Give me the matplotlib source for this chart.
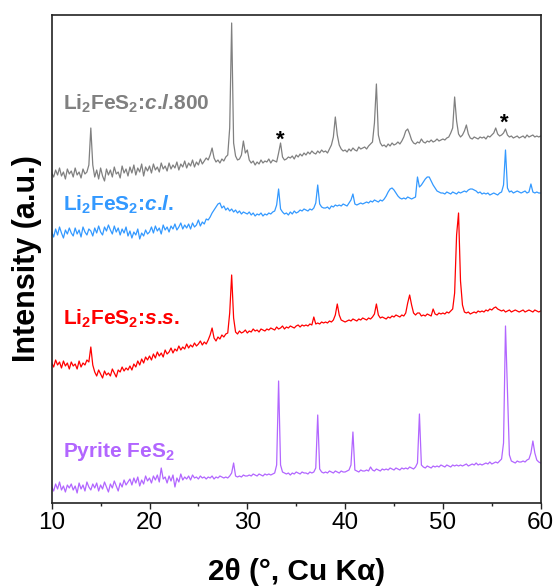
import numpy as np
import matplotlib
matplotlib.use("Agg")
import matplotlib.pyplot as plt

plt.rcParams['font.family'] = ['Liberation Sans', 'DejaVu Sans']
plt.rcParams['mathtext.fontset'] = 'custom'
plt.rcParams['mathtext.rm'] = 'Liberation Sans:bold'
plt.rcParams['mathtext.it'] = 'Liberation Sans:bold:italic'
plt.rcParams['mathtext.bf'] = 'Liberation Sans:bold'

# 2theta sampling grid (degrees), 10.0 ... 60.0 in 0.2 steps
two_theta = np.round(np.linspace(10.0, 60.0, 251), 1)

# Intensities (arbitrary units, offset stacked as in the figure)
cl800 = [
    330, 326, 333, 328, 335, 327, 331, 324, 334, 329,
    332, 326, 335, 328, 331, 325, 334, 329, 331, 338,
    375, 338, 326, 333, 324, 335, 327, 322, 334, 328,
    333, 326, 336, 329, 331, 325, 337, 330, 334, 327,
    336, 330, 338, 328, 335, 331, 339, 327, 336, 332,
    337, 330, 339, 333, 336, 331, 340, 334, 337, 332,
    340, 334, 338, 335, 341, 333, 339, 336, 342, 335,
    340, 337, 343, 336, 341, 338, 344, 339, 342, 345,
    343, 348, 355, 345, 341, 343, 340, 344, 342, 346,
    348, 375, 480, 360, 347, 343, 344, 348, 362, 350,
    353, 343, 340, 342, 338, 341, 339, 343, 340, 342,
    341, 344, 340, 343, 342, 341, 350, 360, 346, 343,
    344, 346, 345, 347, 344, 348, 346, 349, 347, 350,
    348, 351, 349, 352, 350, 349, 352, 350, 353, 351,
    352, 350, 354, 358, 366, 386, 368, 358, 354, 352,
    353, 351, 354, 352, 355, 353, 352, 356, 354, 355,
    356, 354, 357, 359, 361, 380, 419, 368, 360, 357,
    358, 356, 359, 357, 360, 358, 359, 361, 359, 362,
    366, 372, 374, 369, 363, 360, 359, 361, 360, 364,
    361, 360, 362, 361, 363, 361, 362, 364, 362, 363,
    364, 363, 365, 366, 370, 375, 406, 382, 369, 366,
    368, 372, 378, 369, 365, 364, 366, 365, 364, 366,
    365, 366, 364, 367, 366, 368, 370, 375, 369, 367,
    368, 370, 374, 368, 366, 367, 365, 366, 367, 365,
    366, 367, 365, 368, 366, 367, 368, 366, 367, 366,
    367,
]

cl = [
    271, 266, 274, 268, 276, 270, 265, 273, 269, 275,
    270, 267, 275, 269, 273, 266, 276, 271, 268, 274,
    272, 267, 275, 270, 277, 271, 268, 276, 272, 278,
    273, 269, 277, 271, 275, 268, 274, 270, 276, 267,
    272, 265, 271, 268, 274, 264, 270, 267, 273, 269,
    271, 276, 270, 277, 272, 275, 269, 278, 273, 276,
    271, 277, 274, 279, 273, 276, 280, 274, 278, 275,
    279, 274, 280, 276, 278, 283, 277, 281, 279, 284,
    283, 286, 290, 293, 296, 299, 300, 295, 297, 293,
    295, 292, 294, 291, 293, 290, 292, 289, 291, 290,
    289, 291, 288, 290, 287, 289, 288, 290, 287, 289,
    288, 290, 289, 291, 292, 298, 314, 294, 291, 289,
    290, 288, 291, 289, 292, 290, 291, 293, 292, 294,
    293, 292, 294, 293, 295, 300, 318, 299, 296, 295,
    295, 296, 294, 297, 296, 298, 297, 298, 297, 299,
    298, 297, 300, 303, 309, 299, 298, 299, 300, 299,
    300, 301, 300, 302, 301, 303, 302, 301, 303, 302,
    304, 307, 311, 314, 315, 313, 310, 307, 305, 304,
    305, 304, 306, 305, 304, 305, 306, 326, 316, 318,
    321, 324, 326, 326, 322, 318, 315, 312, 311, 310,
    310, 309, 311, 310, 309, 311, 310, 309, 311, 310,
    311, 312, 311, 313, 314, 314, 313, 312, 310, 311,
    309, 310, 309, 310, 308, 309, 310, 309, 308, 310,
    311, 318, 353, 315, 311, 312, 310, 311, 312, 311,
    310, 311, 312, 310, 311, 319, 311, 310, 311, 310,
    310,
]

ss = [
    140, 136, 143, 138, 141, 135, 142, 137, 140, 134,
    141, 137, 139, 134, 142, 136, 140, 138, 143, 141,
    156, 138, 131, 127, 133, 129, 125, 132, 128, 130,
    127, 134, 130, 126, 133, 131, 136, 132, 135, 133,
    137, 133, 139, 136, 142, 138, 144, 140, 146, 143,
    147, 143, 149, 145, 151, 147, 150, 146, 153, 149,
    151, 155, 150, 154, 152, 157, 153, 156, 154, 159,
    155, 158, 156, 160, 157, 159, 162, 158, 161, 159,
    163, 168, 175, 165, 162, 166, 164, 168, 166, 169,
    170, 190, 228, 185, 171, 169, 172, 170, 171, 173,
    170, 172, 171, 174, 172, 173, 171, 174, 173, 172,
    174, 173, 175, 174, 173, 176, 174, 175, 177, 174,
    176, 175, 177, 176, 175, 177, 178, 176, 178, 177,
    178, 177, 179, 178, 186, 179, 180, 179, 181, 180,
    181, 180, 182, 181, 183, 188, 199, 188, 183, 182,
    181, 182, 183, 182, 184, 183, 182, 184, 183, 185,
    184, 183, 185, 184, 186, 189, 199, 188, 185, 186,
    185, 184, 186, 185, 187, 186, 188, 187, 186, 188,
    187, 190, 200, 208, 198, 190, 188, 190, 190, 187,
    188, 187, 189, 188, 187, 194, 189, 188, 190, 189,
    190, 189, 191, 190, 192, 194, 210, 268, 290, 222,
    198, 191, 190, 191, 189, 190, 191, 190, 192, 191,
    192, 191, 193, 192, 194, 193, 195, 196, 194, 193,
    192, 193, 191, 192, 193, 191, 192, 193, 192, 191,
    192, 193, 191, 192, 193, 192, 191, 193, 192, 191,
    192,
]

pyrite = [
    16, 12, 19, 14, 21, 13, 17, 11, 18, 15,
    19, 13, 17, 10, 20, 14, 18, 12, 21, 16,
    13, 19, 15, 20, 12, 18, 14, 21, 16, 11,
    19, 15, 22, 17, 12, 20, 16, 23, 18, 21,
    24, 18, 25, 20, 26, 17, 23, 19, 27, 22,
    25, 20, 27, 23, 28, 21, 35, 24, 26, 20,
    27, 22, 28, 16, 25, 21, 29, 23, 26, 24,
    27, 23, 28, 25, 26, 24, 27, 25, 26, 24,
    26, 25, 27, 24, 26, 25, 27, 26, 25, 26,
    25, 27, 30, 40, 27, 26, 27, 26, 28, 27,
    27, 28, 27, 29, 28, 27, 29, 28, 27, 29,
    28, 29, 28, 29, 30, 38, 122, 38, 31, 30,
    29, 30, 28, 30, 29, 31, 30, 29, 31, 30,
    30, 29, 31, 30, 31, 35, 88, 34, 31, 30,
    31, 30, 32, 31, 30, 32, 31, 30, 32, 31,
    31, 32, 33, 38, 71, 33, 32, 31, 33, 32,
    32, 33, 32, 36, 33, 32, 34, 33, 32, 34,
    33, 34, 33, 35, 34, 33, 35, 34, 33, 35,
    34, 35, 34, 36, 35, 34, 36, 40, 89, 38,
    36, 35, 37, 36, 35, 37, 36, 37, 36, 38,
    37, 36, 38, 37, 36, 38, 37, 38, 37, 38,
    37, 38, 39, 37, 38, 39, 38, 40, 38, 39,
    38, 39, 40, 39, 41, 39, 40, 41, 40, 42,
    44, 60, 177, 111, 48, 42, 41, 40, 42, 41,
    41, 42, 41, 43, 44, 50, 62, 50, 43, 41,
    40,
]

series_labels = [r'Li$_2$FeS$_2$:$\mathit{c}$.$\mathit{l}$.800',
                 r'Li$_2$FeS$_2$:$\mathit{c}$.$\mathit{l}$.',
                 r'Li$_2$FeS$_2$:$\mathit{s}$.$\mathit{s}$.',
                 r'Pyrite FeS$_2$']
series_colors = ['#808080', '#3399FF', '#FF0000', '#B266FF']
label_y = [393.7, 292.3, 178, 46.3]

star_x = [33.34, 56.3]
star_y = [357, 374]

fig = plt.figure(figsize=(5.58, 5.86), dpi=100)
ax = fig.add_axes([51.7/558, 1 - 503/586, 489/558, 488.3/586])

for ydata, col in zip([cl800, cl, ss, pyrite], series_colors):
    ax.plot(two_theta, ydata, color=col, lw=0.9)

for lab, col, yy in zip(series_labels, series_colors, label_y):
    ax.text(11.2, yy, lab, color=col, fontsize=15, fontweight='bold',
            ha='left', va='baseline')

for sx, sy in zip(star_x, star_y):
    ax.text(sx, sy, '*', color='black', fontsize=16, fontweight='bold',
            ha='center', va='baseline')

ax.set_xlim(10, 60)
ax.set_ylim(0, 488.3)
ax.set_xticks([10, 20, 30, 40, 50, 60])
ax.set_xticks([15, 25, 35, 45, 55], minor=True)
ax.set_yticks([])
ax.tick_params(axis='x', which='major', direction='out', length=4, width=1,
               labelsize=17.5, pad=2.5, color='#222222')
ax.tick_params(axis='x', which='minor', direction='out', length=2.5, width=1,
               color='#222222')
for sp in ax.spines.values():
    sp.set_linewidth(1.2)
    sp.set_color('#222222')

ax.set_xlabel('2θ (°, Cu Kα)', fontsize=21.5, fontweight='bold', va='center')
ax.xaxis.set_label_coords(0.5, -(571.7 - 503) / 488.3)
ax.set_ylabel('Intensity (a.u.)', fontsize=22, fontweight='bold', va='center')
ax.yaxis.set_label_coords((26.7 - 51.7) / 489, 0.5)

fig.savefig('out.png', dpi=100)
